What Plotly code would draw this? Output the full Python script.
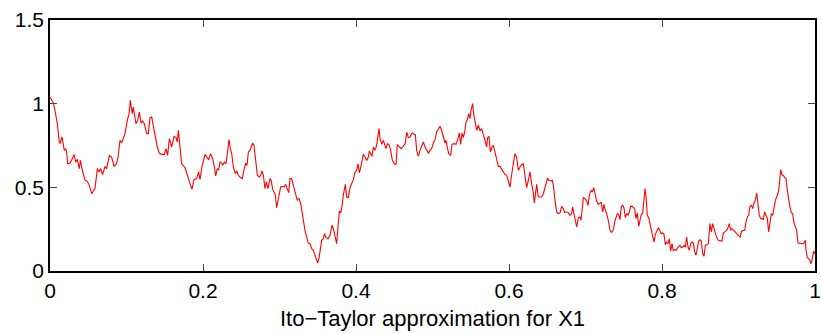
import plotly.graph_objects as go

t = [0.0000, 0.0026, 0.0044, 0.0065, 0.0096, 0.0122, 0.0131, 0.0157, 0.0187, 0.0205, 0.0218, 0.0231, 0.0261, 0.0292, 0.0314, 0.0336, 0.0357, 0.0383, 0.0397, 0.0423,
     0.0458, 0.0488, 0.0514, 0.0545, 0.0575, 0.0588, 0.0619, 0.0641, 0.0662, 0.0688, 0.0719, 0.0741, 0.0776, 0.0806, 0.0837, 0.0871, 0.0893, 0.0915, 0.0937, 0.0980,
     0.1011, 0.1033, 0.1050, 0.1076, 0.1089, 0.1124, 0.1146, 0.1168, 0.1190, 0.1211, 0.1233, 0.1264, 0.1285, 0.1307, 0.1329, 0.1351, 0.1373, 0.1403, 0.1429, 0.1460,
     0.1495, 0.1516, 0.1538, 0.1560, 0.1590, 0.1612,
     0.1621, 0.1647, 0.1664, 0.1678, 0.1699, 0.1721, 0.1765, 0.1787, 0.1808, 0.1830, 0.1856, 0.1882, 0.1917, 0.1943, 0.1961, 0.1987, 0.2026, 0.2057, 0.2074, 0.2100,
     0.2126, 0.2148, 0.2166, 0.2187, 0.2205, 0.2222, 0.2244, 0.2257, 0.2279, 0.2301, 0.2318, 0.2340, 0.2357, 0.2375, 0.2397, 0.2423, 0.2440, 0.2462, 0.2484, 0.2514,
     0.2536, 0.2558, 0.2575, 0.2593, 0.2614, 0.2649, 0.2667, 0.2693, 0.2710, 0.2736, 0.2754, 0.2771, 0.2789, 0.2810, 0.2828, 0.2850, 0.2876, 0.2893, 0.2911, 0.2928,
     0.2946, 0.2963, 0.2985, 0.3015, 0.3041, 0.3063, 0.3081, 0.3102, 0.3120, 0.3137, 0.3159, 0.3181, 0.3207, 0.3233, 0.3246, 0.3259, 0.3281, 0.3298,
     0.3312, 0.3333, 0.3355, 0.3377, 0.3399, 0.3421, 0.3442, 0.3464, 0.3486, 0.3499, 0.3516, 0.3529, 0.3551, 0.3573, 0.3590, 0.3608, 0.3634, 0.3660, 0.3686, 0.3704,
     0.3725, 0.3747, 0.3765, 0.3782, 0.3800, 0.3817, 0.3834, 0.3861, 0.3878, 0.3900, 0.3922, 0.3943, 0.3965, 0.3983, 0.4009, 0.4026, 0.4044, 0.4061, 0.4078, 0.4096,
     0.4118, 0.4139, 0.4161, 0.4174, 0.4192, 0.4209, 0.4227, 0.4248, 0.4270, 0.4288, 0.4301, 0.4314, 0.4336, 0.4357, 0.4375, 0.4392, 0.4410, 0.4436, 0.4453, 0.4475,
     0.4501, 0.4523, 0.4540, 0.4566, 0.4588, 0.4619, 0.4645, 0.4662, 0.4684, 0.4706, 0.4732, 0.4758, 0.4776, 0.4793, 0.4815, 0.4837, 0.4858, 0.4880, 0.4902, 0.4924,
     0.4946, 0.4967, 0.4989,
     0.5011, 0.5033, 0.5054, 0.5076, 0.5098, 0.5120, 0.5142, 0.5163, 0.5176, 0.5194, 0.5211, 0.5238, 0.5255, 0.5281, 0.5307, 0.5333, 0.5351, 0.5368, 0.5386, 0.5403,
     0.5421, 0.5438, 0.5455, 0.5473, 0.5490, 0.5503, 0.5525, 0.5538, 0.5556, 0.5577, 0.5599, 0.5621, 0.5643, 0.5664, 0.5686, 0.5708, 0.5721, 0.5739, 0.5756, 0.5778,
     0.5795, 0.5817, 0.5839, 0.5861, 0.5882, 0.5904, 0.5926, 0.5948, 0.5970, 0.5991, 0.6013, 0.6035, 0.6057, 0.6078, 0.6100, 0.6122, 0.6144, 0.6166, 0.6187, 0.6209,
     0.6231, 0.6253, 0.6275, 0.6296, 0.6318, 0.6331, 0.6353, 0.6362, 0.6383, 0.6405, 0.6427, 0.6449, 0.6471, 0.6492, 0.6505, 0.6519, 0.6545, 0.6566, 0.6580, 0.6601,
     0.6623, 0.6645, 0.6667, 0.6688, 0.6710, 0.6728,
     0.6732, 0.6754, 0.6776, 0.6797, 0.6819, 0.6832, 0.6850, 0.6867, 0.6885, 0.6906, 0.6928, 0.6941, 0.6959, 0.6972, 0.6993, 0.7015, 0.7033, 0.7050, 0.7072, 0.7089,
     0.7107, 0.7124, 0.7146, 0.7168, 0.7190, 0.7207, 0.7224, 0.7242, 0.7259, 0.7277, 0.7298, 0.7320, 0.7342, 0.7364, 0.7381, 0.7399, 0.7416, 0.7434, 0.7451, 0.7468,
     0.7486, 0.7503, 0.7521, 0.7538, 0.7556, 0.7573, 0.7590, 0.7608, 0.7625, 0.7643, 0.7660, 0.7678, 0.7695, 0.7712, 0.7730, 0.7747, 0.7765, 0.7778, 0.7791, 0.7808,
     0.7826, 0.7843, 0.7861, 0.7878, 0.7895, 0.7913, 0.7930, 0.7952, 0.7974, 0.7991, 0.8009, 0.8026, 0.8044, 0.8061, 0.8078, 0.8096, 0.8113, 0.8131, 0.8148, 0.8166,
     0.8183, 0.8201, 0.8218, 0.8235, 0.8253, 0.8270, 0.8288, 0.8305, 0.8322, 0.8340, 0.8357, 0.8375, 0.8392, 0.8410, 0.8427,
     0.8444, 0.8462, 0.8479, 0.8497, 0.8514, 0.8532, 0.8549, 0.8567, 0.8584, 0.8606, 0.8627, 0.8645, 0.8662, 0.8680, 0.8706, 0.8736, 0.8758, 0.8784, 0.8802, 0.8824,
     0.8845, 0.8867, 0.8880, 0.8898, 0.8915, 0.8932, 0.8954, 0.8976, 0.8998, 0.9020, 0.9042, 0.9063, 0.9081, 0.9098, 0.9116, 0.9133, 0.9150, 0.9168, 0.9185, 0.9203,
     0.9220, 0.9238, 0.9255, 0.9272, 0.9290, 0.9307, 0.9325, 0.9342, 0.9359, 0.9377, 0.9394, 0.9412, 0.9429, 0.9447, 0.9464, 0.9482, 0.9499, 0.9521, 0.9534, 0.9551,
     0.9569, 0.9586, 0.9603, 0.9621, 0.9638, 0.9656, 0.9673, 0.9691, 0.9708, 0.9725, 0.9743, 0.9760, 0.9778, 0.9804, 0.9830, 0.9856, 0.9874, 0.9882, 0.9900, 0.9917,
     0.9935, 0.9943, 0.9956, 0.9969, 0.9983, 0.9996, 1.0000]

x1 = [1.040, 1.020, 1.004, 0.960, 0.880, 0.771, 0.761, 0.801, 0.721, 0.731, 0.711, 0.641, 0.645, 0.671, 0.697, 0.651, 0.667, 0.612, 0.661, 0.602,
      0.542, 0.536, 0.512, 0.462, 0.488, 0.492, 0.612, 0.592, 0.612, 0.576, 0.625, 0.612, 0.691, 0.681, 0.625, 0.641, 0.691, 0.781, 0.765, 0.821,
      0.900, 0.940, 1.020, 0.940, 0.980, 0.880, 0.900, 0.950, 0.884, 0.896, 0.880, 0.821, 0.821, 0.916, 0.920, 0.861, 0.801, 0.741, 0.705, 0.697,
      0.697, 0.731, 0.691, 0.791, 0.741, 0.801,
      0.805, 0.797, 0.771, 0.841, 0.741, 0.641, 0.618, 0.582, 0.562, 0.522, 0.488, 0.546, 0.552, 0.592, 0.546, 0.625, 0.697, 0.677, 0.665, 0.701,
      0.671, 0.625, 0.568, 0.612, 0.602, 0.651, 0.645, 0.631, 0.651, 0.641, 0.705, 0.785, 0.731, 0.701, 0.622, 0.582, 0.598, 0.572, 0.562, 0.552,
      0.606, 0.645, 0.631, 0.711, 0.721, 0.765, 0.751, 0.661, 0.572, 0.562, 0.572, 0.598, 0.572, 0.492, 0.532, 0.492, 0.552, 0.538, 0.486, 0.472,
      0.452, 0.378, 0.442, 0.502, 0.506, 0.502, 0.518, 0.482, 0.468, 0.552, 0.552, 0.512, 0.472, 0.422, 0.432, 0.432, 0.392, 0.323,
      0.303, 0.243, 0.203, 0.167, 0.163, 0.133, 0.124, 0.094, 0.064, 0.048, 0.074, 0.124, 0.183, 0.193, 0.223, 0.199, 0.193, 0.213, 0.273, 0.253,
      0.203, 0.163, 0.263, 0.359, 0.347, 0.386, 0.452, 0.518, 0.442, 0.438, 0.498, 0.522, 0.546, 0.586, 0.602, 0.641, 0.586, 0.618, 0.671, 0.697,
      0.681, 0.661, 0.681, 0.717, 0.701, 0.685, 0.741, 0.721, 0.751, 0.797, 0.851, 0.791, 0.757, 0.781, 0.751, 0.731, 0.761, 0.751, 0.721, 0.661,
      0.641, 0.637, 0.755, 0.741, 0.731, 0.745, 0.765, 0.831, 0.797, 0.801, 0.825, 0.817, 0.815, 0.721, 0.685, 0.721, 0.751, 0.771, 0.741, 0.721,
      0.705, 0.721, 0.731,
      0.765, 0.785, 0.831, 0.845, 0.865, 0.841, 0.805, 0.765, 0.781, 0.741, 0.701, 0.691, 0.757, 0.761, 0.757, 0.791, 0.825, 0.757, 0.825, 0.797,
      0.831, 0.890, 0.904, 0.940, 0.910, 0.960, 1.000, 0.940, 0.880, 0.841, 0.871, 0.837, 0.851, 0.821, 0.781, 0.741, 0.797, 0.805, 0.711, 0.741,
      0.751, 0.711, 0.661, 0.625, 0.625, 0.606, 0.586, 0.576, 0.572, 0.542, 0.502, 0.578, 0.651, 0.701, 0.681, 0.602, 0.622, 0.637, 0.641, 0.582,
      0.498, 0.542, 0.592, 0.522, 0.466, 0.406, 0.506, 0.518, 0.442, 0.442, 0.442, 0.462, 0.506, 0.532, 0.556, 0.542, 0.538, 0.542, 0.512, 0.422,
      0.353, 0.343, 0.347, 0.386, 0.373, 0.347,
      0.353, 0.353, 0.349, 0.333, 0.343, 0.382, 0.343, 0.303, 0.263, 0.319, 0.323, 0.303, 0.386, 0.438, 0.432, 0.418, 0.392, 0.452, 0.482, 0.472,
      0.498, 0.458, 0.418, 0.398, 0.406, 0.412, 0.353, 0.398, 0.363, 0.343, 0.303, 0.243, 0.231, 0.247, 0.293, 0.327, 0.343, 0.337, 0.307, 0.386,
      0.392, 0.378, 0.319, 0.343, 0.333, 0.353, 0.386, 0.386, 0.378, 0.373, 0.313, 0.347, 0.267, 0.307, 0.339, 0.343, 0.442, 0.492, 0.446, 0.333,
      0.319, 0.283, 0.227, 0.199, 0.173, 0.219, 0.233, 0.259, 0.239, 0.223, 0.227, 0.219, 0.157, 0.173, 0.163, 0.193, 0.120, 0.163, 0.120, 0.127,
      0.124, 0.139, 0.147, 0.153, 0.139, 0.143, 0.153, 0.143, 0.203, 0.143, 0.124, 0.163, 0.173, 0.167, 0.114,
      0.094, 0.133, 0.179, 0.187, 0.179, 0.104, 0.088, 0.153, 0.159, 0.163, 0.283, 0.233, 0.283, 0.253, 0.213, 0.183, 0.179, 0.179, 0.227, 0.233,
      0.243, 0.263, 0.283, 0.243, 0.253, 0.247, 0.233, 0.223, 0.213, 0.203, 0.239, 0.243, 0.243, 0.293, 0.323, 0.333, 0.386, 0.392, 0.373, 0.406,
      0.422, 0.466, 0.402, 0.333, 0.313, 0.313, 0.307, 0.353, 0.333, 0.313, 0.233, 0.293, 0.343, 0.333, 0.382, 0.422, 0.442, 0.472, 0.518, 0.606,
      0.572, 0.572, 0.558, 0.552, 0.482, 0.422, 0.382, 0.347, 0.343, 0.287, 0.263, 0.243, 0.167, 0.163, 0.163, 0.167, 0.183, 0.124, 0.080, 0.074,
      0.064, 0.044, 0.054, 0.084, 0.120, 0.104, 0.110]

x_ticks = [0, 0.2, 0.4, 0.6, 0.8, 1]
x_tick_labels = ["0", "0.2", "0.4", "0.6", "0.8", "1"]
y_ticks = [0, 0.5, 1, 1.5]
y_tick_labels = ["0", "0.5", "1", "1.5"]
x_label = "Ito\u2212Taylor approximation for X1"

fig = go.Figure()
fig.add_trace(go.Scatter(x=t, y=x1, mode="lines", line=dict(color="#ff0000", width=1.1), showlegend=False, hoverinfo="skip"))

axis_common = dict(
    showgrid=False, zeroline=False, showline=True, linecolor="black", linewidth=1.5,
    mirror="ticks", ticks="inside", ticklen=7, tickwidth=1, tickcolor="#444444",
    automargin=False,
    tickfont=dict(family="Liberation Sans, Arial, sans-serif", size=21, color="black"),
)
fig.update_xaxes(range=[0, 1], tickvals=x_ticks, ticktext=x_tick_labels,
                 title=dict(text=x_label, font=dict(family="Liberation Sans, Arial, sans-serif", size=22, color="black"), standoff=10),
                 **axis_common)
fig.update_yaxes(range=[0, 1.5], tickvals=y_ticks, ticktext=y_tick_labels, **axis_common)

fig.update_layout(
    width=821, height=334,
    margin=dict(l=50, r=6, t=20, b=63, autoexpand=False),
    paper_bgcolor="white", plot_bgcolor="white",
)
fig.write_html("out.html")
